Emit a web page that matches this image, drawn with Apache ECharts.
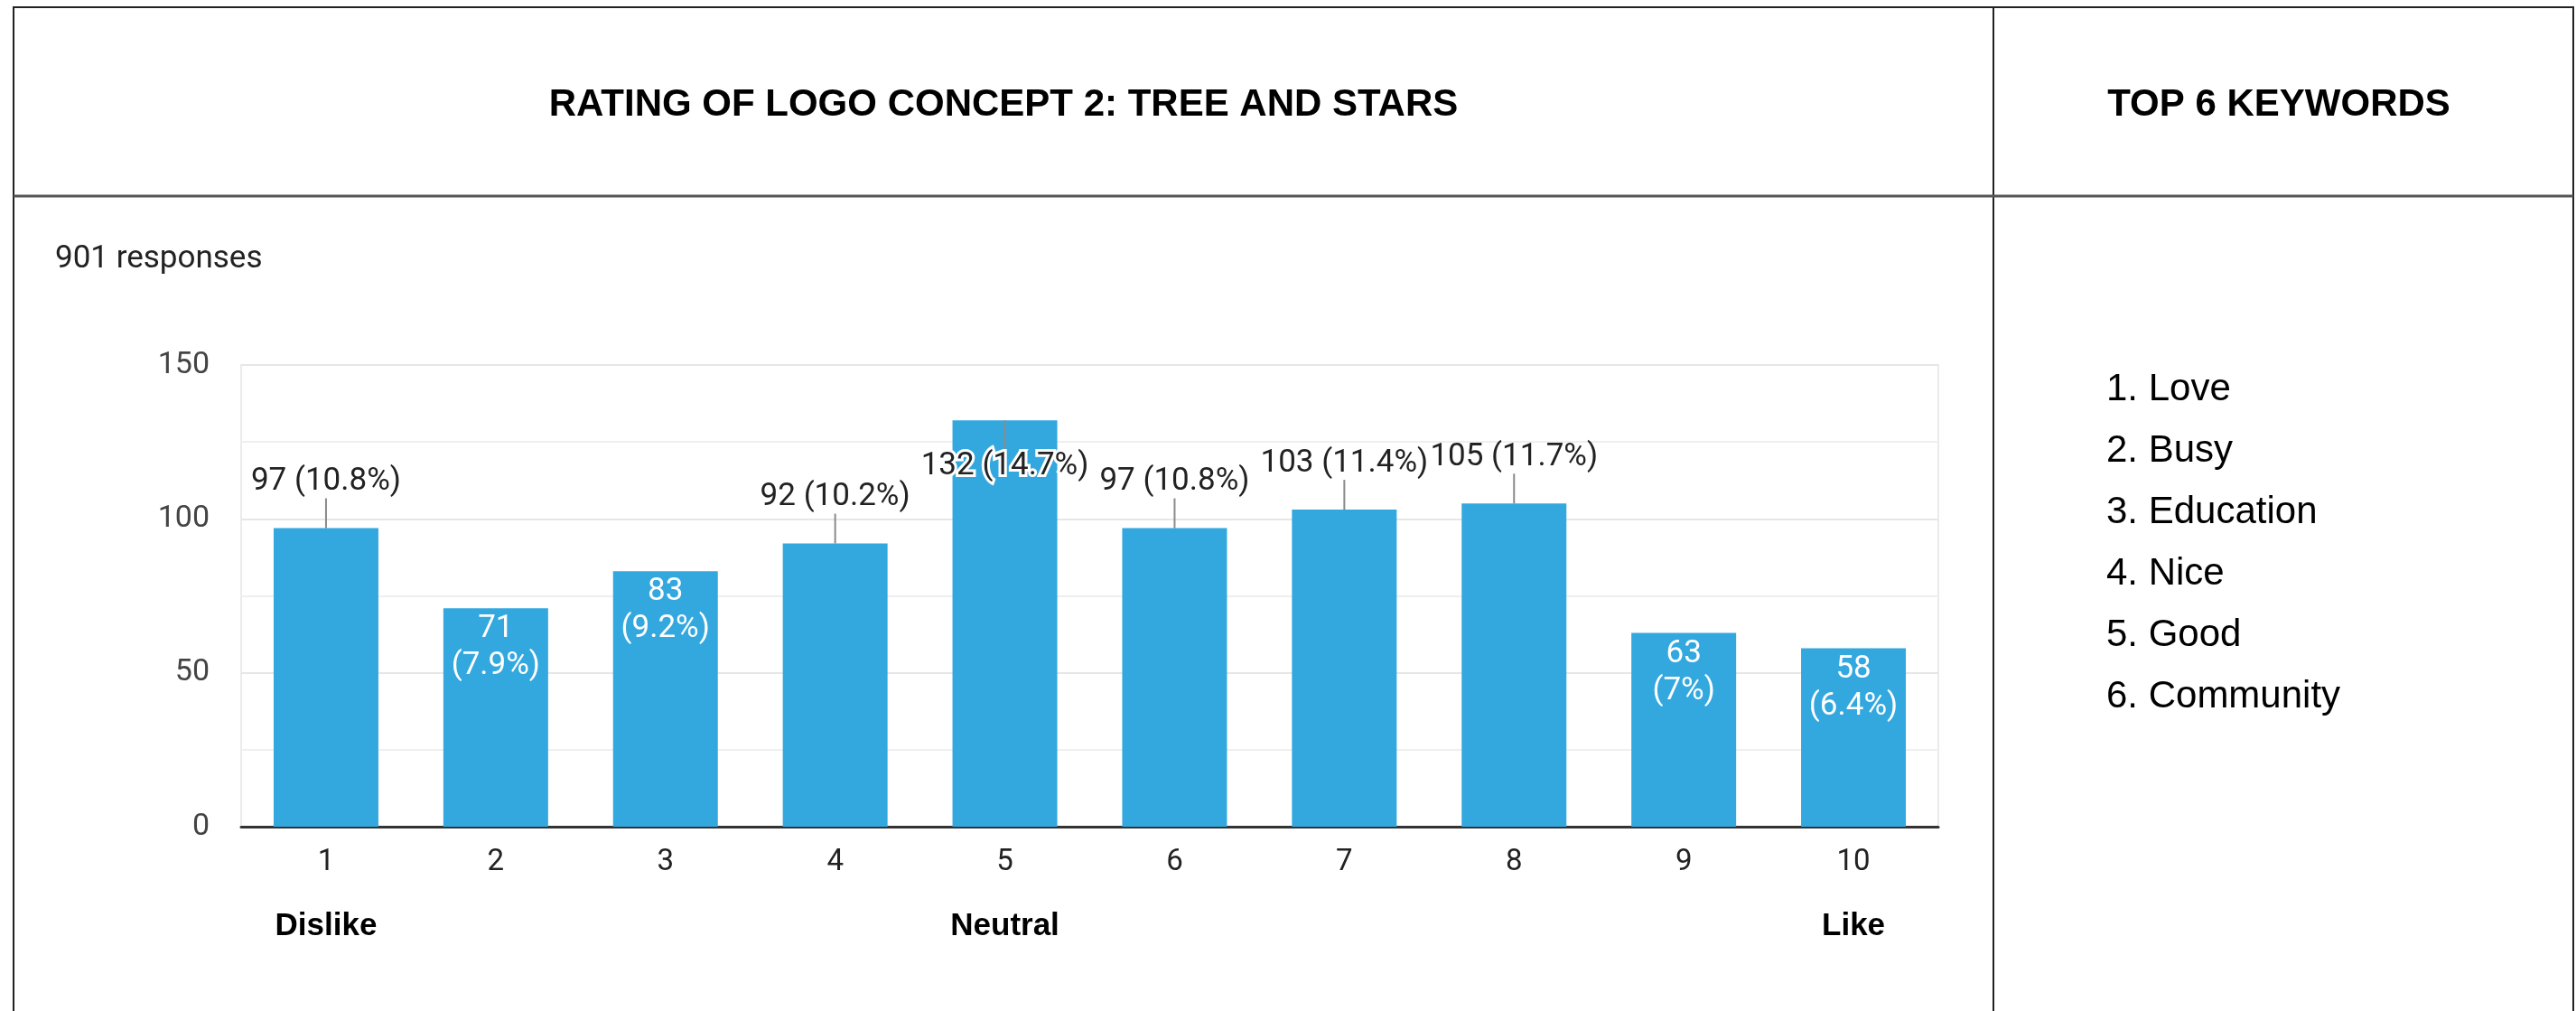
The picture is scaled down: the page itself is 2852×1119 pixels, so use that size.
<!DOCTYPE html>
<html>
<head>
<meta charset="utf-8">
<script src="https://cdn.jsdelivr.net/npm/echarts@6/dist/echarts.min.js"></script>
<style>
html,body{margin:0;padding:0;background:#fff;}
#chart{width:2852px;height:1119px;}
</style>
</head>
<body>
<div id="chart"></div>
<script>
// ---- data ----
const categories = ['1','2','3','4','5','6','7','8','9','10'];
const scaleWords = ['Dislike','','','','Neutral','','','','','Like'];
const counts = [97, 71, 83, 92, 132, 97, 103, 105, 63, 58];
const percents = ['10.8','7.9','9.2','10.2','14.7','10.8','11.4','11.7','7','6.4'];
const yTicks = [0, 50, 100, 150];
const keywords = ['Love','Busy','Education','Nice','Good','Community'];
const chartTitle = 'RATING OF LOGO CONCEPT 2: TREE AND STARS';
const sideTitle = 'TOP 6 KEYWORDS';
const responsesText = '901 responses';

// ---- chart ----
const chart = echarts.init(document.getElementById('chart'), null, {renderer:'canvas'});
const TBL = '"Liberation Sans", Arial, Helvetica, sans-serif';
const CH = 'Roboto, Arial, sans-serif';
const barColor = '#33a8df';

const graphics = [];
const lineStyle = {stroke:'#222', lineWidth:2};
graphics.push({type:'line', shape:{x1:15,y1:8,x2:2849,y2:8}, style:lineStyle, silent:true});
graphics.push({type:'line', shape:{x1:15,y1:7,x2:15,y2:1119}, style:lineStyle, silent:true});
graphics.push({type:'line', shape:{x1:2849,y1:7,x2:2849,y2:1119}, style:lineStyle, silent:true});
graphics.push({type:'line', shape:{x1:2207,y1:7,x2:2207,y2:1119}, style:lineStyle, silent:true});
graphics.push({type:'line', shape:{x1:15,y1:217,x2:2849,y2:217}, style:{stroke:'#555', lineWidth:3}, silent:true});
graphics.push({type:'text', x:1111, y:116, silent:true,
  style:{text:chartTitle, font:'bold 42px ' + TBL, fill:'#000', align:'center', verticalAlign:'middle'}});
graphics.push({type:'text', x:2523, y:116, silent:true,
  style:{text:sideTitle, font:'bold 42px ' + TBL, fill:'#000', align:'center', verticalAlign:'middle'}});
graphics.push({type:'text', x:61, y:287, silent:true,
  style:{text:responsesText, font:'35px ' + CH, fill:'#222', align:'left', verticalAlign:'middle'}});
keywords.forEach((k, i) => {
  graphics.push({type:'text', x:2332, y:431 + i * 68, silent:true,
    style:{text:(i + 1) + '. ' + k, font:'42px ' + TBL, fill:'#000', align:'left', verticalAlign:'middle'}});
});

function renderLabel(params, api) {
  const i = params.dataIndex;
  const v = api.value(1);
  const p = api.coord([api.value(0), v]);
  const x = p[0], top = p[1];
  const one = counts[i] + ' (' + percents[i] + '%)';
  const font = '35px ' + CH;
  if (v > 120) {
    return {type:'group', children:[
      {type:'line', shape:{x1:x, y1:top, x2:x, y2:top + 33}, style:{stroke:'#8a8a8a', lineWidth:2}},
      {type:'text', x:x, y:top + 51, style:{text:one, font:font, fill:'#222', stroke:'#fff', lineWidth:6,
        align:'center', verticalAlign:'middle'}}
    ]};
  } else if (v >= 90) {
    return {type:'group', children:[
      {type:'line', shape:{x1:x, y1:top, x2:x, y2:top - 33}, style:{stroke:'#8a8a8a', lineWidth:2}},
      {type:'text', x:x, y:top - 51, style:{text:one, font:font, fill:'#222', align:'center', verticalAlign:'middle'}}
    ]};
  } else {
    return {type:'text', x:x, y:top + 3, style:{text:counts[i] + '\n(' + percents[i] + '%)', font:font,
      lineHeight:41, fill:'#fff', align:'center', verticalAlign:'top'}};
  }
}

const option = {
  backgroundColor:'#fff',
  animation:false,
  graphic:graphics,
  grid:{left:267, right:706, top:404, bottom:204, show:true, borderColor:'#ebebeb', borderWidth:2, containLabel:false},
  xAxis:{
    type:'category', data:categories,
    axisLine:{show:true, lineStyle:{color:'#333', width:3}},
    axisTick:{show:false},
    axisLabel:{
      margin:20,
      formatter:(val, idx) => scaleWords[idx] ? '{n|' + val + '}\n{w|' + scaleWords[idx] + '}' : '{n|' + val + '}',
      rich:{
        n:{fontFamily:CH, fontSize:33, color:'#222', lineHeight:40},
        w:{fontFamily:TBL, fontSize:35, fontWeight:'bold', color:'#000', lineHeight:100}
      }
    },
    splitLine:{show:false}
  },
  yAxis:{
    type:'value', min:yTicks[0], max:yTicks[yTicks.length - 1], interval:yTicks[1] - yTicks[0],
    axisLine:{show:false}, axisTick:{show:false},
    axisLabel:{margin:35, fontFamily:CH, fontSize:34, color:'#444'},
    splitLine:{show:true, lineStyle:{color:'#e6e6e6', width:2}},
    minorTick:{show:false, splitNumber:2},
    minorSplitLine:{show:true, lineStyle:{color:'#efefef', width:2}}
  },
  series:[
    {type:'bar', data:counts, barWidth:116, itemStyle:{color:barColor}, silent:true, z:2},
    {type:'custom', data:counts.map((v, i) => [i, v]), encode:{x:0, y:1}, renderItem:renderLabel, silent:true, z:5, clip:false}
  ]
};
chart.setOption(option);
</script>
</body>
</html>
